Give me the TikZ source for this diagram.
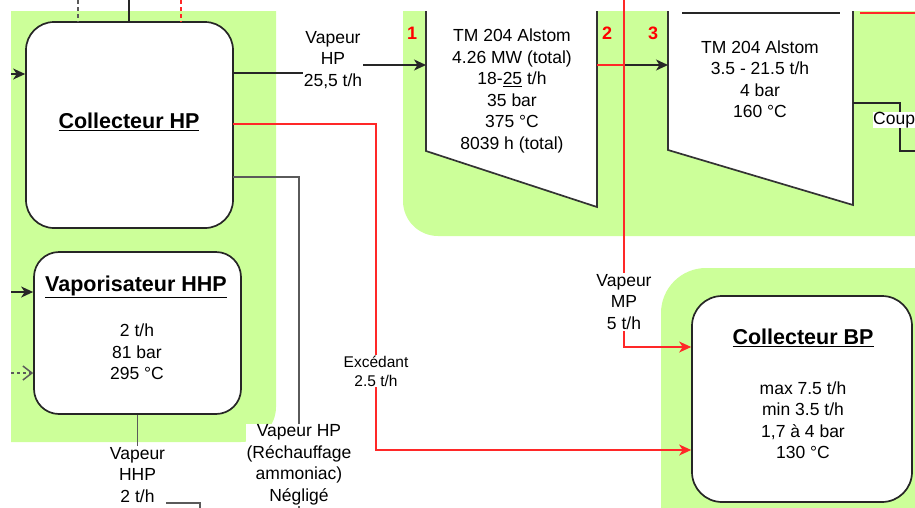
\documentclass[tikz,border=0pt]{standalone}
\usepackage{fontspec}
\setmainfont{Liberation Sans}
\usetikzlibrary{arrows.meta}

\definecolor{zonegreen}{RGB}{204,255,153}
\definecolor{flowred}{RGB}{255,40,40}
\definecolor{linegray}{RGB}{90,90,90}

\begin{document}
\begin{tikzpicture}[
        x=1pt, y=-1pt,
        equip/.style={draw=black!85, fill=white, line width=1.7pt, rounded corners=28pt, inner sep=0pt},
        box_title/.style={font=\fontsize{21.5}{26}\selectfont\bfseries, inner sep=0pt},
        data/.style={font=\fontsize{17.5}{21.5}\selectfont, align=center, inner sep=0pt},
        flow_label/.style={font=\fontsize{17.5}{21.5}\selectfont, align=center, fill=white, inner sep=1pt},
        small_label/.style={font=\fontsize{15.5}{19}\selectfont, align=center, fill=white, inner sep=1pt},
        num_label/.style={font=\fontsize{18}{20}\selectfont\bfseries, text=red, inner sep=0pt},
        turbine/.style={draw=black!80, fill=white, line width=1.7pt},
        steam/.style={draw=black!85, line width=1.5pt},
        steam_gray/.style={draw=linegray, line width=1.5pt},
        steam_red/.style={draw=flowred, line width=1.4pt},
        arrow_tip/.style={-{Stealth[length=12pt, width=11pt, inset=3.5pt]}},
    ]

    \useasboundingbox (0,0) rectangle (915,507);
    \clip (0,0) rectangle (915,507);

    % Green zones
    \begin{scope}
        \clip (11,11) rectangle (915,507);
        \fill[zonegreen, rounded corners=35pt] (-60,-60) rectangle (276,442);
        \fill[zonegreen, rounded corners=35pt] (403,-60) rectangle (1000,236);
        \fill[zonegreen, rounded corners=45pt] (661,268) rectangle (1000,600);
    \end{scope}

    % Equipments
    \node[equip, minimum width=207pt, minimum height=206pt] (colHP) at (129.5,125) {};
    \node[box_title] (colHPtitle) at (129,122) {\underline{Collecteur HP}};

    \node[equip, rounded corners=25pt, minimum width=207pt, minimum height=162pt] (vapHHP) at (137.5,333) {};
    \node[box_title] (vapHHPtitle) at (136,287) {\underline{Vaporisateur HHP}};
    \node[data] (vapHHPdata) at (137,352) {2 t/h\\81 bar\\295 °C};

    \node[equip, rounded corners=30pt, minimum width=220pt, minimum height=206pt] (colBP) at (802,399) {};
    \node[box_title] (colBPtitle) at (803,338) {\underline{Collecteur BP}};
    \node[data] (colBPdata) at (803,420) {max 7.5 t/h\\min 3.5 t/h\\1,7 à 4 bar\\130 °C};

    % Turbines
    \filldraw[turbine] (426,11) -- (426,151) -- (597,207) -- (597,11);
    \filldraw[turbine] (668,11) -- (668,150) -- (853,205) -- (853,11);
    \draw[steam] (682,13) -- (840,13);
    \node[data] (t1text) at (512,91) {TM 204 Alstom\\4.26 MW (total)\\18-\underline{25} t/h\\35 bar\\375 °C\\8039 h (total)};
    \node[data] (t2text) at (760,79) {TM 204 Alstom\\3.5 - 21.5 t/h\\4 bar\\160 °C};
    \node[num_label] (num1) at (412,33) {1};
    \node[num_label] (num2) at (607,33) {2};
    \node[num_label] (num3) at (653,33) {3};

    \coordinate (t1in) at (426,65);
    \coordinate (t1out) at (597,65);
    \coordinate (t2in) at (668,65);
    \coordinate (t2out) at (853,103);

    % Connection points
    \coordinate (hpOut) at (233,73);
    \coordinate (hpRed) at (233,124);
    \coordinate (hpGray) at (233,177);
    \coordinate (inHP) at (11,74);
    \coordinate (inHHP) at (11,292);
    \coordinate (inDash) at (11,373);
    \coordinate (topA) at (78,0);
    \coordinate (topB) at (129,0);
    \coordinate (topC) at (181,0);
    \coordinate (mpTop) at (624,0);
    \coordinate (redTop) at (860,13);
    \coordinate (redTopEnd) at (930,13);
    \coordinate (hhpBend) at (200,503);
    \coordinate (hhpEnd) at (200,530);
    \coordinate (rechEnd) at (299,530);
    \coordinate (coupBend) at (900,103);
    \coordinate (coupEnd) at (930,151);

    % Labels on the flows
    \node[flow_label] (lblHP) at (333,60) {Vapeur\\HP\\25,5 t/h};
    \node[small_label] (lblExc) at (376,371) {Excédant\\2.5 t/h};
    \node[flow_label] (lblMP) at (624,302) {Vapeur\\MP\\5 t/h};
    \node[flow_label] (lblRech) at (299,465) {Vapeur HP\\(Réchauffage\\ammoniac)\\Négligé};
    \node[flow_label] (lblHHP) at (137.5,475) {Vapeur\\HHP\\2 t/h};
    \node[flow_label, anchor=west, inner sep=0pt] (lblCoup) at (873,120) {Coup};

    % Draw flows
    \draw[steam, arrow_tip] (inHP) -- (inHP -| colHP.west);
    \draw[steam, arrow_tip] (inHHP) -- (inHHP -| vapHHP.west);
    \draw[steam_gray, dashed, -{Straight Barb[length=9pt, width=14pt]}] (inDash) -- (inDash -| vapHHP.west);
    \draw[steam_gray, dash pattern=on 4pt off 3pt] (topA) -- (topA |- colHP.north);
    \draw[steam] (topB) -- (topB |- colHP.north);
    \draw[steam_red, dash pattern=on 4pt off 3pt] (topC) -- (topC |- colHP.north);

    \draw[steam, arrow_tip] (hpOut) -| (lblHP.center) |- (t1in);
    \draw[steam, arrow_tip] (t1out) -- (t2in);
    \draw[steam_red] (mpTop) -- (mpTop |- t1out);
    \draw[steam_red, arrow_tip] (t1out) -| (lblMP.center) |- ([yshift=52pt]colBP.west);
    \draw[steam_red, arrow_tip] (hpRed) -| (lblExc.center) |- ([yshift=-51pt]colBP.west);
    \draw[steam_gray] (hpGray) -| (rechEnd);
    \draw[steam_gray] (vapHHP.south) |- (hhpBend) -- (hhpEnd);
    \draw[steam] (t2out) -- (coupBend) |- (coupEnd);
    \draw[steam_red] (redTop) -- (redTopEnd);

    % Labels again on top of the lines
    \node[flow_label] at (lblHP) {Vapeur\\HP\\25,5 t/h};
    \node[small_label] at (lblExc) {Excédant\\2.5 t/h};
    \node[flow_label] at (lblMP) {Vapeur\\MP\\5 t/h};
    \node[flow_label] at (lblRech) {Vapeur HP\\(Réchauffage\\ammoniac)\\Négligé};
    \node[flow_label] at (lblHHP) {Vapeur\\HHP\\2 t/h};
    \node[flow_label, anchor=west, inner sep=0pt] at (lblCoup.west) {Coup};

\end{tikzpicture}
\end{document}
